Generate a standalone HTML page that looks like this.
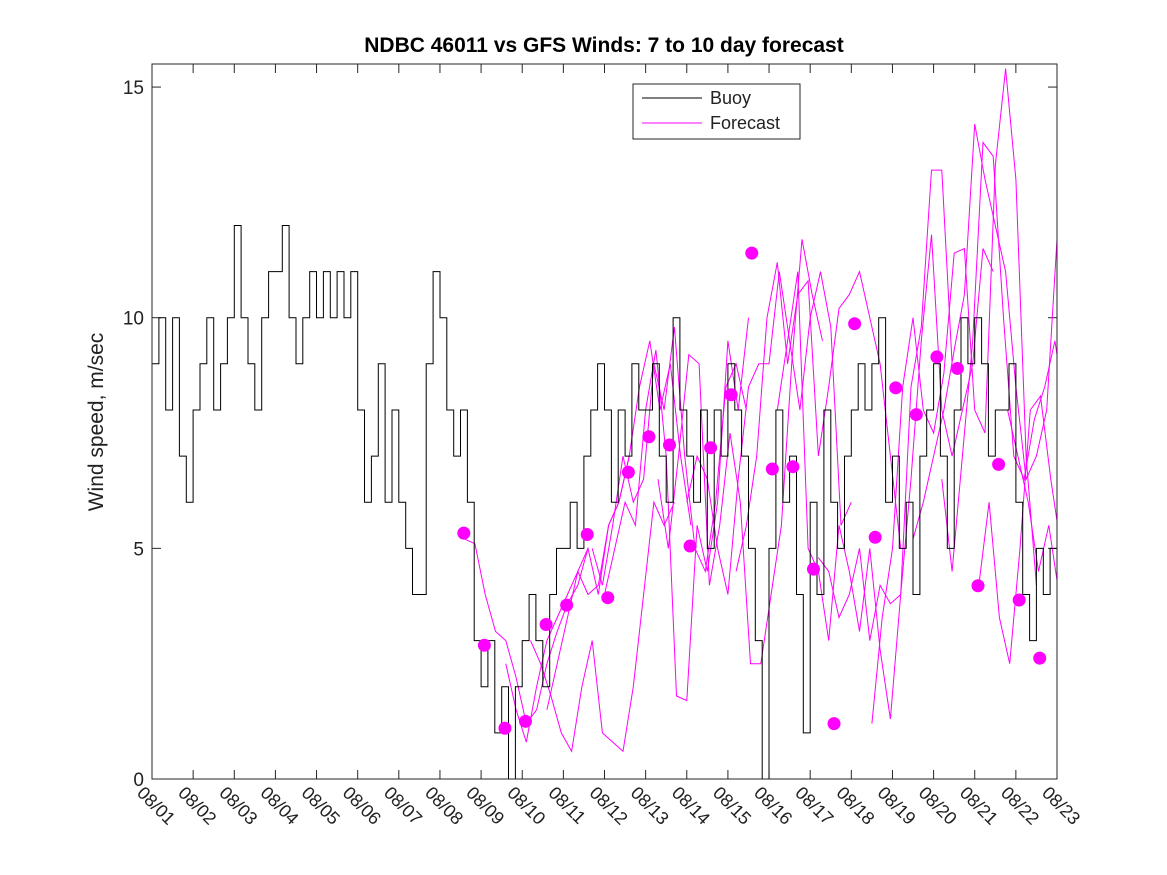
<!DOCTYPE html>
<html><head><meta charset="utf-8"><style>
body{margin:0;background:#fff;}
svg{display:block;font-family:"Liberation Sans","DejaVu Sans",sans-serif;}
</style></head><body>
<svg id="chart" width="1167" height="875" xmlns="http://www.w3.org/2000/svg">
<rect width="1167" height="875" fill="#fff"/>
<defs><clipPath id="pc"><rect x="152" y="64" width="905" height="715"/></clipPath></defs>
<text x="604" y="52" text-anchor="middle" font-size="21" font-weight="bold">NDBC 46011 vs GFS Winds: 7 to 10 day forecast</text>
<text transform="translate(103,422) rotate(-90)" text-anchor="middle" font-size="21" fill="#222">Wind speed, m/sec</text>
<g id="axes"></g>
<g id="fc" clip-path="url(#pc)"></g>
<g id="buoy" clip-path="url(#pc)"></g>
<g id="dots"></g>
<rect x="152" y="64" width="905" height="715" fill="none" stroke="#262626" stroke-width="1"/>
<g>
<rect x="633" y="84" width="167" height="55" fill="#fff" stroke="#262626"/>
<line x1="642" y1="98" x2="702" y2="98" stroke="#000"/>
<text x="710" y="104" font-size="18" fill="#222">Buoy</text>
<line x1="642" y1="123" x2="702" y2="123" stroke="#f0f"/>
<text x="710" y="129" font-size="18" fill="#222">Forecast</text>
</g>
</svg>
<script>
const xTickLabels=["08/01","08/02","08/03","08/04","08/05","08/06","08/07","08/08","08/09","08/10","08/11","08/12","08/13","08/14","08/15","08/16","08/17","08/18","08/19","08/20","08/21","08/22","08/23"];
const yTicks=[0,5,10,15];
const buoyStep=1/6;
const buoy=[9,10,8,10,7,6, 8,9,10,8,9,10, 12,10,9,8,10,11, 11,12,10,9,10,11, 10,11,10,11,10,11,
8,6,7,9,6,8, 6,5,4,4,9,11, 10,8,7,8,6,3, 2,3,1,2,0,2, 3,4,3,2,4,5,
5,6,5,7,8,9, 8,6,8,7,9,8, 8,9,7,6,10,8, 7,6,8,5,8,7, 9,8,7,5,3,0,
5,8,6,7,4,1, 6,4,8,6,5,7, 8,9,8,9,10,6, 7,5,6,4,7,8, 9,7,5,8,10,9,
10,9,7,8,8,9, 6,4,3,5,4,5];
const dotStart=7.58, dotStep=0.5;
const dots=[5.33,2.9,1.1,1.25,3.35,3.77,5.3,3.93,6.65,7.42,7.24,5.05,7.18,8.33,11.4,6.72,6.77,4.55,1.2,9.87,5.24,8.48,7.9,9.15,8.9,4.19,6.82,3.88,2.62];
const fcStep=0.25;
const fcStarts=[7.6,8.6,9.2,9.6,10.7,11.0,12.3,13.0,14.2,15.2,16.2,17.5,18.5,19.2,20.1,20.8];
const fcVals=[
[5.2,5.1,4.0,3.2,3.0,2.2,1.2,1.5,2.5,3.2,3.8,4.2,5.0],
[2.5,1.5,0.8,2.0,3.0,3.5,4.0,4.5,5.0,4.0,5.5,6.0,7.0],
[3.0,2.5,1.8,1.0,0.6,2.0,3.0,1.0,0.8,0.6,2.0,4.0,6.0,5.5,6.0],
[1.5,2.5,3.5,4.5,4.0,4.2,5.5,6.0,7.0,8.5,9.5,8.0,9.0,7.0,5.5],
[5.0,4.2,5.5,7.0,6.0,6.5,9.0,8.0,9.8,7.0,5.0,4.5,6.0,8.5,9.0,8.0],
[4.0,5.0,6.0,5.5,8.0,9.3,7.0,1.8,1.7,5.5,4.5,6.0,9.5,8.0,10.0],
[6.5,5.0,7.0,9.2,9.0,4.2,5.5,7.5,6.0,2.5,2.5,4.0,5.5,9.0,11.7,10.5,9.5],
[6.0,7.0,6.5,5.0,4.0,6.5,8.5,9.0,9.0,11.0,9.5,8.0,10.0,11.0,9.8,5.5,6.0],
[4.5,5.5,7.0,10.0,11.2,9.0,10.5,10.8,7.0,8.5,10.2,10.5,11.0,10.0,9.0,7.0,5.0],
[8.0,9.5,11.0,5.0,4.5,3.0,5.5,4.5,3.2,5.0,2.8,1.3,4.0,8.5,9.8,13.2,13.2,9.0],
[4.8,4.5,3.5,4.0,5.0,3.0,4.2,3.8,4.0,6.5,9.5,11.8,8.0,7.0,8.0,9.0,11.5,11.0],
[1.2,3.5,5.0,8.5,10.0,8.0,7.5,8.8,11.4,11.5,8.0,7.5,13.3,15.4,13.0,7.0,4.2],
[5.2,6.0,7.0,8.0,9.3,10.5,14.2,13.0,12.0,11.0,8.5,6.5,7.0,8.0,11.7,11.5,9.0,5.0],
[6.5,4.5,7.0,9.5,13.8,13.5,10.0,7.0,6.5,7.8,8.5,9.5,8.0,5.0,4.0,5.0,6.0,7.4,7.2],
[4.2,6.0,3.5,2.5,5.0,8.0,8.3,6.5,5.0,4.2,3.8,4.5,5.5,6.8,5.0,3.5,2.3,4.0],
[8.0,7.0,6.0,4.5,5.5,4.0,3.0,2.5,2.2,3.0,5.5,6.0,5.0]];
const X0=152,X1=1057,Y0=779,Y1=64,DMAX=22,VMAX=15.5;
const xs=d=>X0+d/DMAX*(X1-X0);
const ys=v=>Y0-v/VMAX*(Y0-Y1);
const NS="http://www.w3.org/2000/svg";
function mk(t,p,a){const e=document.createElementNS(NS,t);for(const k in a)e.setAttribute(k,a[k]);p.appendChild(e);return e;}
const axes=document.getElementById('axes');
xTickLabels.forEach((l,i)=>{
 const x=xs(i);
 const t1=mk('line',axes,{x1:x,y1:Y0,x2:x,y2:Y0-9,stroke:'#262626'});
 
 
 const t2=mk('line',axes,{x1:x,y1:Y1,x2:x,y2:Y1+9,stroke:'#262626'});
 
 
 const tx=mk('text',axes,{transform:`translate(${x-16},${Y0+15}) rotate(45)`,'font-size':18,fill:'#222'});
 tx.textContent=l;
 
 
});
yTicks.forEach(v=>{
 const y=ys(v);
 const a=mk('line',axes,{x1:X0,y1:y,x2:X0+9,y2:y,stroke:'#262626'});
 
 
 const b=mk('line',axes,{x1:X1,y1:y,x2:X1-9,y2:y,stroke:'#262626'});
 
 
 const tx=mk('text',axes,{x:X0-8,y:y+7,'text-anchor':'end','font-size':19,fill:'#222'});
 tx.textContent=v;
 
 
});
const fc=document.getElementById('fc');
fcVals.forEach((arr,i)=>{
 const pts=arr.map((v,j)=>xs(fcStarts[i]+j*fcStep).toFixed(1)+','+ys(v).toFixed(1)).join(' ');
 const p=mk('polyline',fc,{points:pts,fill:'none',stroke:'#f0f','stroke-width':1});
 
 
});
let d='';
buoy.forEach((v,i)=>{
 const xa=xs(i*buoyStep),xb=xs((i+1)*buoyStep),y=ys(v);
 d+=(i?'L':'M')+xa.toFixed(1)+','+y.toFixed(1)+'L'+xb.toFixed(1)+','+y.toFixed(1);
});
const bp=mk('path',document.getElementById('buoy'),{d:d,fill:'none',stroke:'#000','stroke-width':1});


const dg=document.getElementById('dots');
dots.forEach((v,i)=>{
 const c=mk('circle',dg,{cx:xs(dotStart+i*dotStep),cy:ys(v),r:6.5,fill:'#f0f'});
 
 
});
</script>
</body></html>
